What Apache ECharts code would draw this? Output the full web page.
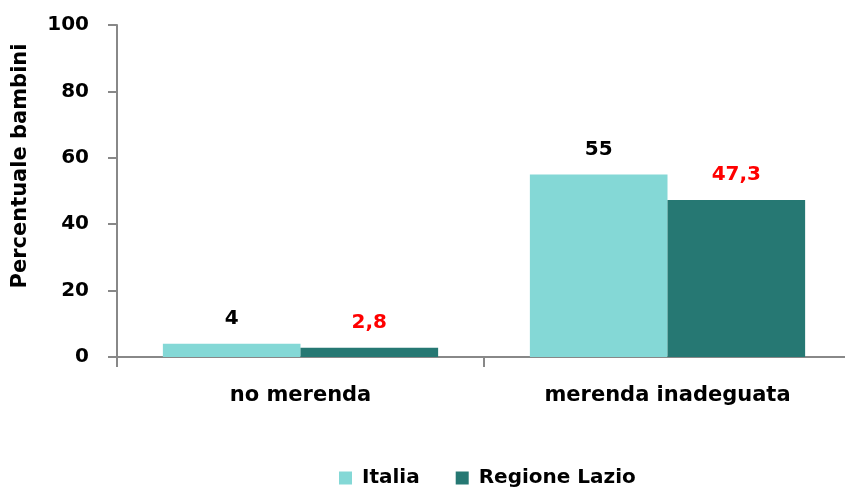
<!DOCTYPE html>
<html>
<head>
<meta charset="utf-8">
<script src="https://cdn.jsdelivr.net/npm/echarts@6/dist/echarts.min.js"></script>
<style>
  html, body { margin: 0; padding: 0; background: #fff; }
  #chart { width: 845px; height: 490px; }
</style>
</head>
<body>
<div id="chart"></div>
<script>
// dati
const categories = ['no merenda', 'merenda inadeguata']
const italia = [4, 55]
const lazio = [2.8, 47.3]
const seriesNames = ['Italia', 'Regione Lazio']

const FONT = '"DejaVu Sans", sans-serif'
const fmt = p => String(p.value).replace('.', ',')

const chart = echarts.init(document.getElementById('chart'))

const option = {
  animation: false,
  textStyle: { fontFamily: FONT },
  grid: { left: 117, right: -6, top: 25, bottom: 133, containLabel: false, outerBoundsMode: 'none' },
  legend: {
    data: seriesNames,
    bottom: -3,
    left: 334,
    itemWidth: 13,
    itemHeight: 13,
    itemGap: 36,
    icon: 'rect',
    textStyle: { fontFamily: FONT, fontSize: 20, fontWeight: 'bold', color: '#000', padding: [0, 0, 0, 5] }
  },
  xAxis: {
    type: 'category',
    data: categories,
    axisLine: { lineStyle: { color: '#888', width: 2 } },
    axisTick: { show: true, length: 10, lineStyle: { color: '#888', width: 2 } },
    axisLabel: { margin: 28, fontFamily: FONT, fontSize: 21, fontWeight: 'bold', color: '#000' }
  },
  yAxis: {
    type: 'value',
    min: 0,
    max: 100,
    interval: 20,
    name: 'Percentuale bambini',
    nameLocation: 'middle',
    nameGap: 86,
    nameTextStyle: { fontFamily: FONT, fontSize: 21, fontWeight: 'bold', color: '#000', padding: [0, 0, 0, 50] },
    splitLine: { show: false },
    axisLine: { show: true, lineStyle: { color: '#888', width: 2 } },
    axisTick: { show: true, length: 9, lineStyle: { color: '#888', width: 2 } },
    axisLabel: { margin: 28, fontFamily: FONT, fontSize: 20, fontWeight: 'bold', color: '#000' }
  },
  series: [
    {
      name: seriesNames[0],
      type: 'bar',
      data: italia,
      barGap: '0%',
      barCategoryGap: '25%',
      itemStyle: { color: '#84D8D6' },
      label: {
        show: true, position: 'top', distance: 15, formatter: fmt,
        fontFamily: FONT, fontSize: 20, fontWeight: 'bold', color: '#000'
      }
    },
    {
      name: seriesNames[1],
      type: 'bar',
      data: lazio,
      itemStyle: { color: '#267873' },
      label: {
        show: true, position: 'top', distance: 15, formatter: fmt,
        fontFamily: FONT, fontSize: 20, fontWeight: 'bold', color: '#FF0000'
      }
    }
  ]
}

chart.setOption(option)
</script>
</body>
</html>
